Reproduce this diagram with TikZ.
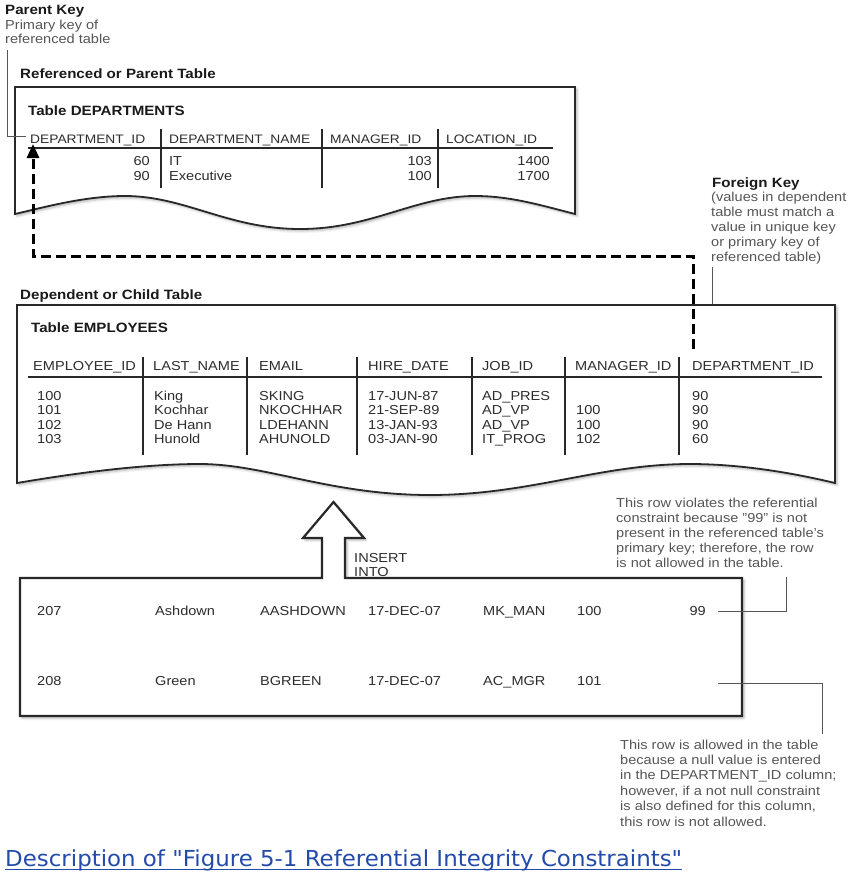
\documentclass[tikz,border=0pt]{standalone}
\usepackage{fontspec}
\usepackage{graphicx}
\setmainfont{Liberation Sans}[FakeStretch=1.12]
\newfontfamily\capfont{DejaVu Sans}
\usetikzlibrary{arrows.meta,shadows.blur}
\definecolor{ink}{RGB}{45,45,45}
\definecolor{notegray}{RGB}{85,85,85}
\definecolor{edge}{RGB}{40,40,40}
\definecolor{linkblue}{RGB}{35,75,170}
\begin{document}
\begin{tikzpicture}[x=1pt,y=-1pt,
  tx/.style={font=\fontsize{13}{15}\selectfont, text=ink, inner sep=0pt, anchor=base west},
  txr/.style={tx, anchor=base east},
  colhd/.style={font=\fontsize{13}{15}\selectfont, text=ink, inner sep=0pt, anchor=base west},
  pcolhd/.style={colhd, font=\fontsize{12.3}{15}\selectfont},
  hd/.style={font=\bfseries\fontsize{13.5}{16}\selectfont, text=black!90, inner sep=0pt, anchor=base west},
  note/.style={font=\fontsize{13}{#1}\selectfont, text=notegray, inner sep=0pt, anchor=base west},
  note/.default=15,
  tblbox/.style={fill=white, draw=edge, line width=1.8pt, line join=miter,
    blur shadow={shadow xshift=2pt, shadow yshift=-2pt, shadow blur radius=2.5pt, shadow opacity=30}},
  sepline/.style={draw=edge, line width=1.8pt},
  conn/.style={draw=notegray, line width=1pt},
  fkline/.style={draw=black, line width=3pt, dash pattern=on 10pt off 5pt,
    -{Triangle[length=14pt,width=12pt]}}
]
\useasboundingbox (0,0) rectangle (865,873);

% ---------------- Parent key note
\node[hd] (pk) at (5,14) {Parent Key};
\node[note=14] (pknote) at (5,29) {\begin{tabular}[t]{@{}l@{}}Primary key of\\referenced table\end{tabular}};

% ---------------- Parent table
\node[hd] (ptab) at (20,78) {Referenced or Parent Table};
\path[tblbox] (15,87) -- (575,87) -- (575,214)
  .. controls (540,205) and (510,196) .. (475,196)
  .. controls (415,196) and (372,229) .. (300,229)
  .. controls (228,229) and (185,196) .. (125,196)
  .. controls (85,196) and (45,207) .. (15,214) -- cycle;
\node[hd] (pt) at (28,115) {Table DEPARTMENTS};
\node[pcolhd] (ph1) at (30,143) {DEPARTMENT\_ID};
\node[pcolhd] (ph2) at (169,143) {DEPARTMENT\_NAME};
\node[pcolhd] (ph3) at (330,143) {MANAGER\_ID};
\node[pcolhd] (ph4) at (446,143) {LOCATION\_ID};
\draw[sepline] (28,148) -- (553,148);
\foreach \xx in {161,322,438} \draw[sepline] (\xx,129) -- (\xx,188);
\node[txr] (pr1a) at (150,165) {60};
\node[tx]  (pr1b) at (169,165) {IT};
\node[txr] (pr1c) at (432,165) {103};
\node[txr] (pr1d) at (550,165) {1400};
\node[txr] (pr2a) at (150,180) {90};
\node[tx]  (pr2b) at (169,180) {Executive};
\node[txr] (pr2c) at (432,180) {100};
\node[txr] (pr2d) at (550,180) {1700};

% parent key bracket
\coordinate (pkb) at (7,50);
\coordinate (pkc) at (26,136);
\draw[conn] (pkb) |- (pkc);

% ---------------- Foreign key note
\node[hd] (fk) at (712,187) {Foreign Key};
\node[note] (fknote) at (711,201) {\begin{tabular}[t]{@{}l@{}}(values in dependent\\table must match a\\value in unique key\\or primary key of\\referenced table)\end{tabular}};
\coordinate (fkl1) at (712,267);
\coordinate (fkl2) at (712,345);
\draw[conn] (fkl1) -- (fkl2);

% ---------------- Child table
\node[hd] (ctab) at (20,299) {Dependent or Child Table};
\path[tblbox] (17,305) -- (835,305) -- (835,483)
  .. controls (785,471) and (735,464) .. (690,464)
  .. controls (600,464) and (530,495) .. (430,495)
  .. controls (330,495) and (265,464) .. (200,464)
  .. controls (140,464) and (70,474) .. (17,483) -- cycle;
\node[hd] (ct) at (31,332) {Table EMPLOYEES};
\node[colhd] (ch1) at (33,370) {EMPLOYEE\_ID};
\node[colhd] (ch2) at (153,370) {LAST\_NAME};
\node[colhd] (ch3) at (259,370) {EMAIL};
\node[colhd] (ch4) at (368,370) {HIRE\_DATE};
\node[colhd] (ch5) at (482,370) {JOB\_ID};
\node[colhd] (ch6) at (575,370) {MANAGER\_ID};
\node[colhd] (ch7) at (692,370) {DEPARTMENT\_ID};
\draw[sepline] (28,377) -- (822,377);
\foreach \xx in {143,247,357,472,565,679} \draw[sepline] (\xx,357) -- (\xx,455);
\foreach \yy/\ca/\cb/\cc/\cd/\ce/\cg [count=\i] in {
  400/100/King/SKING/17-JUN-87/AD\_PRES/90,
  414.5/101/Kochhar/NKOCHHAR/21-SEP-89/AD\_VP/90,
  429/102/De Hann/LDEHANN/13-JAN-93/AD\_VP/90,
  443.5/103/Hunold/AHUNOLD/03-JAN-90/IT\_PROG/60}{
  \node[tx] (e\i-a) at (37,\yy) {\ca};
  \node[tx] (e\i-b) at (154,\yy) {\cb};
  \node[tx] (e\i-c) at (259,\yy) {\cc};
  \node[tx] (e\i-d) at (368,\yy) {\cd};
  \node[tx] (e\i-e) at (482,\yy) {\ce};
  \node[tx] (e\i-g) at (692,\yy) {\cg};
}
\foreach \yy/\cf [count=\i] in {414.5/100,429/100,443.5/102}{
  \node[tx] (m\i) at (576,\yy) {\cf};
}

% foreign key dashed connector
\coordinate (fkfrom) at (693,349);
\coordinate (fkmid) at (33,256);
\coordinate (fkto) at (33,144);
\draw[fkline] (fkfrom) |- (fkmid) -- (fkto);

% ---------------- Insert box with arrow
\path[tblbox, line width=2.2pt] (20,578) -- (322,578) -- (322,538) -- (303,538) -- (333.5,502)
  -- (364,538) -- (345,538) -- (345,578) -- (742,578) -- (742,716) -- (20,716) -- cycle;
\node[colhd] (ins1) at (354,562) {INSERT};
\node[colhd] (ins2) at (354,576) {INTO};
\node[tx] (i1a) at (37,615) {207};
\node[tx] (i1b) at (155,615) {Ashdown};
\node[tx] (i1c) at (260,615) {AASHDOWN};
\node[tx] (i1d) at (368,615) {17-DEC-07};
\node[tx] (i1e) at (483,615) {MK\_MAN};
\node[tx] (i1f) at (577,615) {100};
\node[txr] (i1g) at (706,615) {99};
\node[tx] (i2a) at (37,685) {208};
\node[tx] (i2b) at (155,685) {Green};
\node[tx] (i2c) at (260,685) {BGREEN};
\node[tx] (i2d) at (368,685) {17-DEC-07};
\node[tx] (i2e) at (483,685) {AC\_MGR};
\node[tx] (i2f) at (577,685) {101};

% ---------------- Annotations
\node[note] (ann1) at (616,507) {\begin{tabular}[t]{@{}l@{}}This row violates the referential\\constraint because "99" is not\\present in the referenced table's\\primary key; therefore, the row\\is not allowed in the table.\end{tabular}};
\coordinate (c1a) at (718,611);
\coordinate (c1b) at (786,577);
\draw[conn] (c1a) -| (c1b);

\coordinate (c2a) at (718,683);
\coordinate (c2b) at (822,734);
\draw[conn] (c2a) -| (c2b);
\node[note=15.4] (ann2) at (620,749) {\begin{tabular}[t]{@{}l@{}}This row is allowed in the table\\because a null value is entered\\in the DEPARTMENT\_ID column;\\however, if a not null constraint\\is also defined for this column,\\this row is not allowed.\end{tabular}};

% ---------------- Caption
\node[anchor=base west, inner sep=0pt, text=linkblue, font=\capfont\fontsize{22}{26}\selectfont] (cap) at (5,866)
  {\resizebox{677pt}{\height}{Description of "Figure 5-1 Referential Integrity Constraints"}};
\draw[linkblue, line width=1.4pt] ([yshift=-3.5pt]cap.base west) -- ([yshift=-3.5pt]cap.base east);
\end{tikzpicture}
\end{document}
